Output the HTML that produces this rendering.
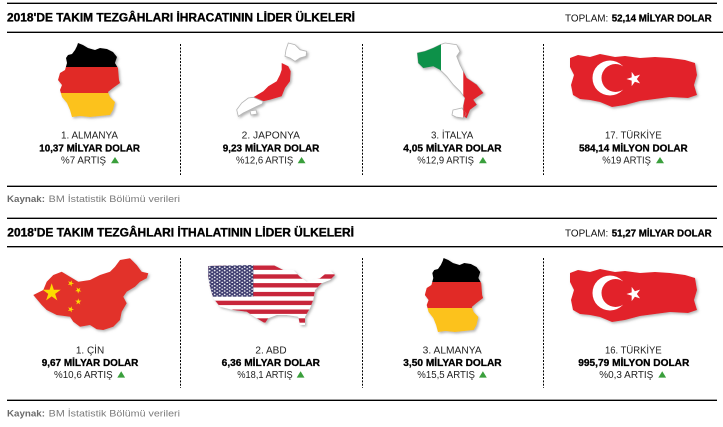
<!DOCTYPE html>
<html>
<head>
<meta charset="utf-8">
<style>
html,body{margin:0;padding:0;background:#fff;}
svg{display:block;}
text{font-family:"Liberation Sans",sans-serif;}
.h{font-size:12px;font-weight:bold;fill:#000;stroke:#000;stroke-width:0.35;}
.tl{font-size:10.5px;fill:#111;}
.tb{font-size:10.5px;font-weight:bold;fill:#000;stroke:#000;stroke-width:0.3;}
.n{font-size:10px;fill:#1e1e1e;}
.v{font-size:10px;font-weight:bold;fill:#000;stroke:#000;stroke-width:0.3;}
.a{font-size:10px;fill:#1e1e1e;}
.kb{font-size:9.5px;font-weight:bold;fill:#6a6a6a;}
.kr{font-size:9.5px;fill:#7a7a7a;}
.tri{fill:#3a9f3c;}
</style>
</head>
<body>
<svg width="723" height="427" viewBox="0 0 723 427" xmlns="http://www.w3.org/2000/svg">
<defs>
  <filter id="sh" x="-20%" y="-20%" width="140%" height="140%">
    <feDropShadow dx="1.5" dy="1.5" stdDeviation="1.2" flood-color="#777" flood-opacity="0.55"/>
  </filter>
  <polygon id="star" points="0,-1 0.2245,-0.309 0.951,-0.309 0.363,0.118 0.588,0.809 0,0.382 -0.588,0.809 -0.363,0.118 -0.951,-0.309 -0.2245,-0.309"/>
  <clipPath id="deClip">
    <polygon points="78,43 83,45 88,48 95,50 100,48 107,49 113,52 117,57 115,63 118,68 119,80 120,83 113,88 108,92 110,97 115,102 113,110 110,115 100,116 90,117 80,116 72,117 70,110 67,103 62,97 60,90 62,85 58,80 60,73 65,70 67,63 66,58 68,55 72,54 75,50 77,46"/>
  </clipPath>
  <clipPath id="itClip">
    <polygon points="445,43 456.7,44.7 460,51.3 456.7,56.3 460,64.7 466.7,78 476.7,84.7 483.3,93 478.3,96.3 473.3,99.7 476.7,104.7 470,109.7 466.7,118 463.3,116.3 463.3,106.3 465,98 460,91.3 453.3,84.7 446.7,76.3 440,69.7 433.3,66.3 423.3,68 418.3,63 417.3,53 425,51.3 433.3,48 440,44.7"/>
  </clipPath>
  <clipPath id="usClip">
    <polygon points="208.3,266 253.3,265 273.3,265 283.3,270 293.3,270 300,276.7 306.7,281.7 320,278.3 330,270 335,275 330,280 321.7,283.3 315,290 313.3,300 310,308.3 305,316.7 305,325 300,325 298.3,316.7 286.7,315 276.7,315 268.3,318.3 265,323.3 256.7,318.3 246.7,311.7 233.3,310 220,306.7 213.3,298.3 210,286.7 208.3,276.7"/>
  </clipPath>
  <pattern id="stars" x="208.3" y="266" width="5" height="3.4" patternUnits="userSpaceOnUse">
    <circle cx="1.4" cy="1.2" r="0.85" fill="#fff"/>
    <circle cx="3.9" cy="2.9" r="0.85" fill="#fff"/>
  </pattern>
  <g id="turkey">
    <polygon fill="#e2222a" points="570,58 578,55 590,57 600,54 615,57 625,56 640,58 655,57 670,58 685,60 695,63 697,75 694,85 697,95 688,98 670,97 655,99 640,101 625,105 612,107 600,102 590,100 580,99 573,95 571,85 574,75 570,67"/>
    <circle cx="610" cy="78" r="17.5" fill="#fff"/>
    <circle cx="615.5" cy="78" r="14" fill="#e2222a"/>
    <use href="#star" fill="#fff" transform="translate(634,79) rotate(-90) scale(7.5)"/>
  </g>
  <g id="germany">
    <g clip-path="url(#deClip)">
      <rect x="50" y="40" width="75" height="27" fill="#000"/>
      <rect x="50" y="67" width="75" height="26" fill="#e12a26"/>
      <rect x="50" y="93" width="75" height="28" fill="#fcc21b"/>
    </g>
  </g>
</defs>

<!-- ===== SECTION 1 ===== -->
<line x1="7" y1="3.3" x2="717" y2="3.3" stroke="#000" stroke-width="1.4"/>
<text class="h" x="7" y="21.7" textLength="348" lengthAdjust="spacingAndGlyphs">2018'DE TAKIM TEZGÂHLARI İHRACATININ LİDER ÜLKELERİ</text>
<text class="tl" x="565" y="21.7" textLength="43.3" lengthAdjust="spacingAndGlyphs">TOPLAM:</text>
<text class="tb" x="611.7" y="21.7" textLength="100" lengthAdjust="spacingAndGlyphs">52,14 MİLYAR DOLAR</text>
<line x1="7" y1="32.3" x2="723" y2="32.3" stroke="#000" stroke-width="1.4"/>

<line x1="180.5" y1="44" x2="180.5" y2="175" stroke="#000" stroke-width="1" stroke-dasharray="2,1.4"/>
<line x1="362.5" y1="44" x2="362.5" y2="175" stroke="#000" stroke-width="1" stroke-dasharray="2,1.4"/>
<line x1="543.5" y1="44" x2="543.5" y2="175" stroke="#000" stroke-width="1" stroke-dasharray="2,1.4"/>

<!-- Germany -->
<g filter="url(#sh)"><use href="#germany"/></g>

<!-- Japan -->
<g filter="url(#sh)">
  <polygon fill="#fff" stroke="#b5b5b5" stroke-width="0.8" points="288.3,43 295,44.7 300,49.7 306.7,51.3 306,56.3 300,58 295,61.3 290,58 285,56.3 286,49.7"/>
  <polygon fill="#e2222a" points="281.7,63 288.3,66.3 290.7,71.3 290,81.3 285,88 281.7,96.3 270,99.7 263.3,101.3 255,100.7 253.3,97.3 263.3,91.3 268.3,86.3 276.7,81.3 280,74.7 281.7,69.7"/>
  <polygon fill="#fff" stroke="#b5b5b5" stroke-width="0.8" points="253.3,97.3 263.3,101.5 262,104 256.7,106.3 250,109.7 243.3,113 238.3,116.3 236.7,109.7 241.7,103 248.3,98"/>
  <polygon fill="#fff" stroke="#b5b5b5" stroke-width="0.8" points="250,111 256,110 257,114 251,115"/>
</g>

<!-- Italy -->
<g filter="url(#sh)">
  <polygon fill="#fff" stroke="#b5b5b5" stroke-width="0.8" points="445,43 456.7,44.7 460,51.3 456.7,56.3 460,64.7 466.7,78 476.7,84.7 483.3,93 478.3,96.3 473.3,99.7 476.7,104.7 470,109.7 466.7,118 463.3,116.3 463.3,106.3 465,98 460,91.3 453.3,84.7 446.7,76.3 440,69.7 433.3,66.3 423.3,68 418.3,63 417.3,53 425,51.3 433.3,48 440,44.7"/>
  <g clip-path="url(#itClip)">
    <rect x="410" y="40" width="31" height="40" fill="#0f9148"/>
    <rect x="463.3" y="40" width="30" height="85" fill="#e2222a"/>
  </g>
  <polygon fill="#fff" stroke="#b5b5b5" stroke-width="0.8" points="453,110 462,108 466,114 463,118 456,117 452,115"/>
  <polygon fill="#e2222a" points="463.3,108.6 466,114 463.3,117.6"/>
</g>

<!-- Turkey -->
<g filter="url(#sh)"><use href="#turkey"/></g>

<!-- texts section 1 -->
<text class="n" x="61" y="138.3" textLength="57" lengthAdjust="spacingAndGlyphs">1. ALMANYA</text>
<text class="v" x="39.3" y="151.6" textLength="100.7" lengthAdjust="spacingAndGlyphs">10,37 MİLYAR DOLAR</text>
<text class="a" x="61" y="163.5" textLength="45" lengthAdjust="spacingAndGlyphs">%7 ARTIŞ</text>
<polygon class="tri" points="111,163.3 119,163.3 115,157"/>

<text class="n" x="241.7" y="138.3" textLength="58.3" lengthAdjust="spacingAndGlyphs">2. JAPONYA</text>
<text class="v" x="222.7" y="151.6" textLength="96.7" lengthAdjust="spacingAndGlyphs">9,23 MİLYAR DOLAR</text>
<text class="a" x="236" y="163.5" textLength="57.3" lengthAdjust="spacingAndGlyphs">%12,6 ARTIŞ</text>
<polygon class="tri" points="297.7,163.3 305.5,163.3 301.6,157"/>

<text class="n" x="431" y="138.3" textLength="42.3" lengthAdjust="spacingAndGlyphs">3. İTALYA</text>
<text class="v" x="403.3" y="151.6" textLength="98.3" lengthAdjust="spacingAndGlyphs">4,05 MİLYAR DOLAR</text>
<text class="a" x="417.3" y="163.5" textLength="56.7" lengthAdjust="spacingAndGlyphs">%12,9 ARTIŞ</text>
<polygon class="tri" points="479,163.3 486.8,163.3 482.9,157"/>

<text class="n" x="605" y="138.3" textLength="56.7" lengthAdjust="spacingAndGlyphs">17. TÜRKİYE</text>
<text class="v" x="579" y="151.6" textLength="108.7" lengthAdjust="spacingAndGlyphs">584,14 MİLYON DOLAR</text>
<text class="a" x="602.3" y="163.5" textLength="48.7" lengthAdjust="spacingAndGlyphs">%19 ARTIŞ</text>
<polygon class="tri" points="656,163.3 664,163.3 660,157"/>

<line x1="7" y1="186.3" x2="717" y2="186.3" stroke="#000" stroke-width="1.4"/>
<text class="kb" x="7" y="202" textLength="38" lengthAdjust="spacingAndGlyphs">Kaynak:</text>
<text class="kr" x="48.7" y="202" textLength="131.3" lengthAdjust="spacingAndGlyphs">BM İstatistik Bölümü verileri</text>

<!-- ===== SECTION 2 ===== -->
<line x1="7" y1="218.3" x2="717" y2="218.3" stroke="#000" stroke-width="1.4"/>
<text class="h" x="7.3" y="236.7" textLength="346.7" lengthAdjust="spacingAndGlyphs">2018'DE TAKIM TEZGÂHLARI İTHALATININ LİDER ÜLKELERİ</text>
<text class="tl" x="565" y="236.7" textLength="43.3" lengthAdjust="spacingAndGlyphs">TOPLAM:</text>
<text class="tb" x="611.7" y="236.7" textLength="100" lengthAdjust="spacingAndGlyphs">51,27 MİLYAR DOLAR</text>
<line x1="7" y1="246.7" x2="723" y2="246.7" stroke="#000" stroke-width="1.4"/>

<line x1="180.5" y1="258" x2="180.5" y2="388" stroke="#000" stroke-width="1" stroke-dasharray="2,1.4"/>
<line x1="362.5" y1="258" x2="362.5" y2="388" stroke="#000" stroke-width="1" stroke-dasharray="2,1.4"/>
<line x1="543.5" y1="258" x2="543.5" y2="388" stroke="#000" stroke-width="1" stroke-dasharray="2,1.4"/>

<!-- China -->
<g filter="url(#sh)">
  <polygon fill="#e2302a" points="120,260 130,258.3 136.7,265 141.7,271.7 148.3,273.3 146.7,278.3 140,281.7 135,286.7 126.7,291.7 123.3,296.7 126.7,303.3 121.7,311.7 120,320 113.3,326.7 103.3,330 96.7,329.3 90,325 80,326.7 73.3,321.7 70,316.7 56.7,315 46.7,310 41.7,305 33.3,295 43.3,290 46.7,281.7 53.3,275 61.7,271.7 70,276.7 78.3,281.7 90,280 100,275 110,271.7 115,266.7"/>
  <use href="#star" fill="#fcdb00" transform="translate(51.7,292.7) scale(9.5)"/>
  <use href="#star" fill="#fcdb00" transform="translate(70.7,283.3) rotate(20) scale(3.3)"/>
  <use href="#star" fill="#fcdb00" transform="translate(78.3,290.3) rotate(40) scale(3.3)"/>
  <use href="#star" fill="#fcdb00" transform="translate(78.3,301.7) scale(3.3)"/>
  <use href="#star" fill="#fcdb00" transform="translate(70.7,309.3) rotate(20) scale(3.3)"/>
</g>

<!-- USA -->
<g filter="url(#sh)">
  <g clip-path="url(#usClip)">
    <rect x="200" y="260" width="140" height="70" fill="#fff"/>
    <rect x="200" y="265.5" width="140" height="4.4" fill="#c8283a"/>
    <rect x="200" y="274.3" width="140" height="4.4" fill="#c8283a"/>
    <rect x="200" y="283.1" width="140" height="4.4" fill="#c8283a"/>
    <rect x="200" y="291.9" width="140" height="4.4" fill="#c8283a"/>
    <rect x="200" y="300.7" width="140" height="4.4" fill="#c8283a"/>
    <rect x="200" y="309.5" width="140" height="4.4" fill="#c8283a"/>
    <rect x="200" y="318.3" width="140" height="4.4" fill="#c8283a"/>
    <rect x="200" y="260" width="53.3" height="36.7" fill="#3c3b6e"/>
    <rect x="200" y="260" width="53.3" height="36.7" fill="url(#stars)"/>
  </g>
</g>

<!-- Germany 2 -->
<g filter="url(#sh)"><use href="#germany" transform="translate(422,258) scale(0.94,1) translate(-55,-43)"/></g>

<!-- Turkey 2 -->
<g filter="url(#sh)"><use href="#turkey" transform="translate(0,215)"/></g>

<!-- texts section 2 -->
<text class="n" x="90" y="353.3" text-anchor="middle">1. ÇİN</text>
<text class="v" x="41.7" y="366.2" textLength="96.7" lengthAdjust="spacingAndGlyphs">9,67 MİLYAR DOLAR</text>
<text class="a" x="54" y="377.8" textLength="58.7" lengthAdjust="spacingAndGlyphs">%10,6 ARTIŞ</text>
<polygon class="tri" points="117.3,377.6 125.1,377.6 121.2,371.3"/>

<text class="n" x="271" y="353.3" text-anchor="middle">2. ABD</text>
<text class="v" x="221.7" y="366.2" textLength="98.3" lengthAdjust="spacingAndGlyphs">6,36 MİLYAR DOLAR</text>
<text class="a" x="237.3" y="377.8" textLength="55.4" lengthAdjust="spacingAndGlyphs">%18,1 ARTIŞ</text>
<polygon class="tri" points="296.7,377.6 304.5,377.6 300.6,371.3"/>

<text class="n" x="422.7" y="353.3" textLength="59" lengthAdjust="spacingAndGlyphs">3. ALMANYA</text>
<text class="v" x="403.3" y="366.2" textLength="98.3" lengthAdjust="spacingAndGlyphs">3,50 MİLYAR DOLAR</text>
<text class="a" x="417.3" y="377.8" textLength="57.7" lengthAdjust="spacingAndGlyphs">%15,5 ARTIŞ</text>
<polygon class="tri" points="479,377.6 486.8,377.6 482.9,371.3"/>

<text class="n" x="605" y="353.3" textLength="56.7" lengthAdjust="spacingAndGlyphs">16. TÜRKİYE</text>
<text class="v" x="578.3" y="366.2" textLength="111" lengthAdjust="spacingAndGlyphs">995,79 MİLYON DOLAR</text>
<text class="a" x="599.3" y="377.8" textLength="54" lengthAdjust="spacingAndGlyphs">%0,3 ARTIŞ</text>
<polygon class="tri" points="658.3,377.6 666.1,377.6 662.2,371.3"/>

<line x1="7" y1="400.3" x2="717" y2="400.3" stroke="#000" stroke-width="1.4"/>
<text class="kb" x="7" y="416.7" textLength="38" lengthAdjust="spacingAndGlyphs">Kaynak:</text>
<text class="kr" x="48.7" y="416.7" textLength="131.3" lengthAdjust="spacingAndGlyphs">BM İstatistik Bölümü verileri</text>
</svg>
</body>
</html>
